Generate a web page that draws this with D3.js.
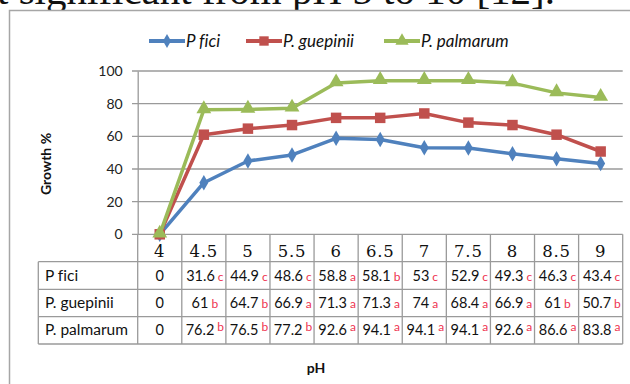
<!DOCTYPE html>
<html>
<head>
<meta charset="utf-8">
<script src="https://cdn.jsdelivr.net/npm/d3@7"></script>
<style>
  html, body { margin: 0; padding: 0; background: #fff; }
  svg { display: block; }
  svg text { font-variant-ligatures: none; font-feature-settings: "liga" 0; }
</style>
</head>
<body>
<svg id="chart" width="630" height="384"></svg>
<script>
// pH levels tested
const phLevels = ["4", "4.5", "5", "5.5", "6", "6.5", "7", "7.5", "8", "8.5", "9"];

// Mycelial growth (%) per species
const seriesNames = ["P fici", "P. guepinii", "P. palmarum"];
const pFici      = [0, 31.6, 44.9, 48.6, 58.8, 58.1, 53, 52.9, 49.3, 46.3, 43.4];
const pGuepinii  = [0, 61, 64.7, 66.9, 71.3, 71.3, 74, 68.4, 66.9, 61, 50.7];
const pPalmarum  = [0, 76.2, 76.5, 77.2, 92.6, 94.1, 94.1, 94.1, 92.6, 86.6, 83.8];

// Significance letters for each value
const ficiLetters      = ["", "c", "c", "c", "a", "b", "c", "c", "c", "c", "c"];
const guepiniiLetters  = ["", "b", "b", "a", "a", "a", "a", "a", "a", "b", "b"];
const palmarumLetters  = ["", "b", "b", "b", "a", "a", "a", "a", "a", "a", "a"];

const yTicks = [0, 20, 40, 60, 80, 100];

const series = [
  { name: seriesNames[0], values: pFici, letters: ficiLetters, color: "#4F81BD", marker: d3.symbolDiamond, size: 70, shift: 0 },
  { name: seriesNames[1], values: pGuepinii, letters: guepiniiLetters, color: "#C0504D", marker: d3.symbolSquare, size: 110, shift: 0 },
  { name: seriesNames[2], values: pPalmarum, letters: palmarumLetters, color: "#9BBB59", marker: d3.symbolTriangle, size: 95, shift: -4 }
];

const svg = d3.select("#chart");
const gridColor = "#9a9a9a";
const sans = "Lato, 'Open Sans', sans-serif";

// Caption line of the surrounding text
svg.append("text")
  .attr("x", -3).attr("y", 4)
  .attr("font-family", "'Liberation Serif', serif")
  .attr("font-size", 41)
  .attr("fill", "#111")
  .text("t significant from pH 5 to 10 [12].");

// Chart frame
svg.append("rect")
  .attr("x", 9.5).attr("y", 10.5)
  .attr("width", 640).attr("height", 400)
  .attr("fill", "#fff")
  .attr("stroke", "#a6a6a6")
  .attr("stroke-width", 1.5);

const x = d3.scaleBand().domain(phLevels).range([137.7, 622.7]).padding(0);
const y = d3.scaleLinear().domain([0, 100]).range([234.3, 71]);

// Horizontal gridlines
svg.append("g")
  .selectAll("line")
  .data(yTicks)
  .join("line")
  .attr("x1", 132).attr("x2", 622.7)
  .attr("y1", d => y(d)).attr("y2", d => y(d))
  .attr("stroke", gridColor).attr("stroke-width", 1.3);

// Vertical value axis
const yAxis = d3.axisLeft(y).tickValues(yTicks).tickSize(0).tickPadding(15);
const yAxisG = svg.append("g").attr("transform", "translate(137.7,0)").call(yAxis);
yAxisG.select(".domain").attr("stroke", gridColor).attr("stroke-width", 1.3);
yAxisG.selectAll("text")
  .attr("font-family", sans)
  .attr("font-size", 14)
  .attr("fill", "#222");

// Axis titles
svg.append("text")
  .attr("transform", "translate(51,164) rotate(-90)")
  .attr("text-anchor", "middle")
  .attr("font-family", sans)
  .attr("font-weight", "bold")
  .attr("font-size", 14)
  .attr("fill", "#111")
  .text("Growth %");

svg.append("text")
  .attr("x", 316).attr("y", 373)
  .attr("text-anchor", "middle")
  .attr("font-family", sans)
  .attr("font-weight", "bold")
  .attr("font-size", 14)
  .attr("fill", "#111")
  .text("pH");

// Data table under the plot
const rowTops = [261.7, 289.3, 316.7, 344];
const tableLeft = 38.3;
const tableRight = x.range()[1];
const table = svg.append("g");

// vertical separators between categories
table.selectAll("line.vsep")
  .data(phLevels.map(p => x(p)).concat([tableRight]))
  .join("line")
  .attr("x1", d => d).attr("x2", d => d)
  .attr("y1", y(0)).attr("y2", rowTops[rowTops.length - 1])
  .attr("stroke", gridColor).attr("stroke-width", 1.3);

// horizontal row borders
table.selectAll("line.hsep")
  .data(rowTops)
  .join("line")
  .attr("x1", tableLeft).attr("x2", tableRight)
  .attr("y1", d => d).attr("y2", d => d)
  .attr("stroke", gridColor).attr("stroke-width", 1.3);

table.append("line")
  .attr("x1", tableLeft).attr("x2", tableLeft)
  .attr("y1", rowTops[0]).attr("y2", rowTops[rowTops.length - 1])
  .attr("stroke", gridColor).attr("stroke-width", 1.3);

// category labels in the header row
table.selectAll("text.cat")
  .data(phLevels)
  .join("text")
  .attr("x", d => x(d) + x.bandwidth() / 2)
  .attr("y", 257)
  .attr("text-anchor", "middle")
  .attr("font-family", "'DejaVu Serif', serif")
  .attr("font-size", 16.5)
  .attr("letter-spacing", 0.8)
  .attr("fill", "#111")
  .text(d => d);

// row labels and value cells
series.forEach((s, i) => {
  const top = rowTops[i];
  const bottom = rowTops[i + 1];
  const base = (top + bottom) / 2 + 5;

  table.append("text")
    .attr("x", 45).attr("y", base)
    .attr("font-family", sans)
    .attr("font-size", 15.5)
    .attr("fill", "#111")
    .text(s.name);

  phLevels.forEach((p, j) => {
    const t = table.append("text")
      .attr("x", x(p) + x.bandwidth() / 2 + (s.letters[j] ? 1 : 0))
      .attr("y", base)
      .attr("text-anchor", "middle")
      .attr("font-family", sans)
      .attr("font-size", 14.5)
      .attr("fill", "#111");
    t.append("tspan").text(s.values[j]);
    if (s.letters[j]) {
      t.append("tspan")
        .attr("dx", 3)
        .attr("dy", s.shift)
        .attr("font-size", 12)
        .attr("fill", "#ee3350")
        .text(s.letters[j]);
    }
  });
});

// Lines and markers
const line = d3.line()
  .x((d, i) => x(phLevels[i]) + x.bandwidth() / 2)
  .y(d => y(d));

series.forEach(s => {
  const g = svg.append("g");
  g.append("path")
    .attr("d", line(s.values))
    .attr("fill", "none")
    .attr("stroke", s.color)
    .attr("stroke-width", 3.5)
    .attr("stroke-linejoin", "round");
  g.selectAll("path.m")
    .data(s.values)
    .join("path")
    .attr("transform", (d, i) => `translate(${x(phLevels[i]) + x.bandwidth() / 2},${y(d) + (s.marker === d3.symbolTriangle ? -1 : 0)})`)
    .attr("d", d3.symbol().type(s.marker).size(s.size))
    .attr("fill", s.color);
});

// Legend: each entry is a line-with-marker swatch followed by the series name
const legendTextX = [186, 283, 421];
const swatchLen = 36;
series.forEach((s, i) => {
  const g = svg.append("g").attr("transform", `translate(${legendTextX[i] - swatchLen - 1},41)`);
  g.append("line")
    .attr("x1", 0).attr("x2", swatchLen)
    .attr("stroke", s.color).attr("stroke-width", 4);
  g.append("path")
    .attr("transform", `translate(${swatchLen / 2},0)`)
    .attr("d", d3.symbol().type(s.marker).size(s.size * 0.8))
    .attr("fill", s.color);
  g.append("text")
    .attr("x", swatchLen + 1).attr("y", 6)
    .attr("font-family", sans)
    .attr("font-style", "italic")
    .attr("font-size", 17)
    .attr("fill", "#111")
    .text(s.name);
});
</script>
</body>
</html>
